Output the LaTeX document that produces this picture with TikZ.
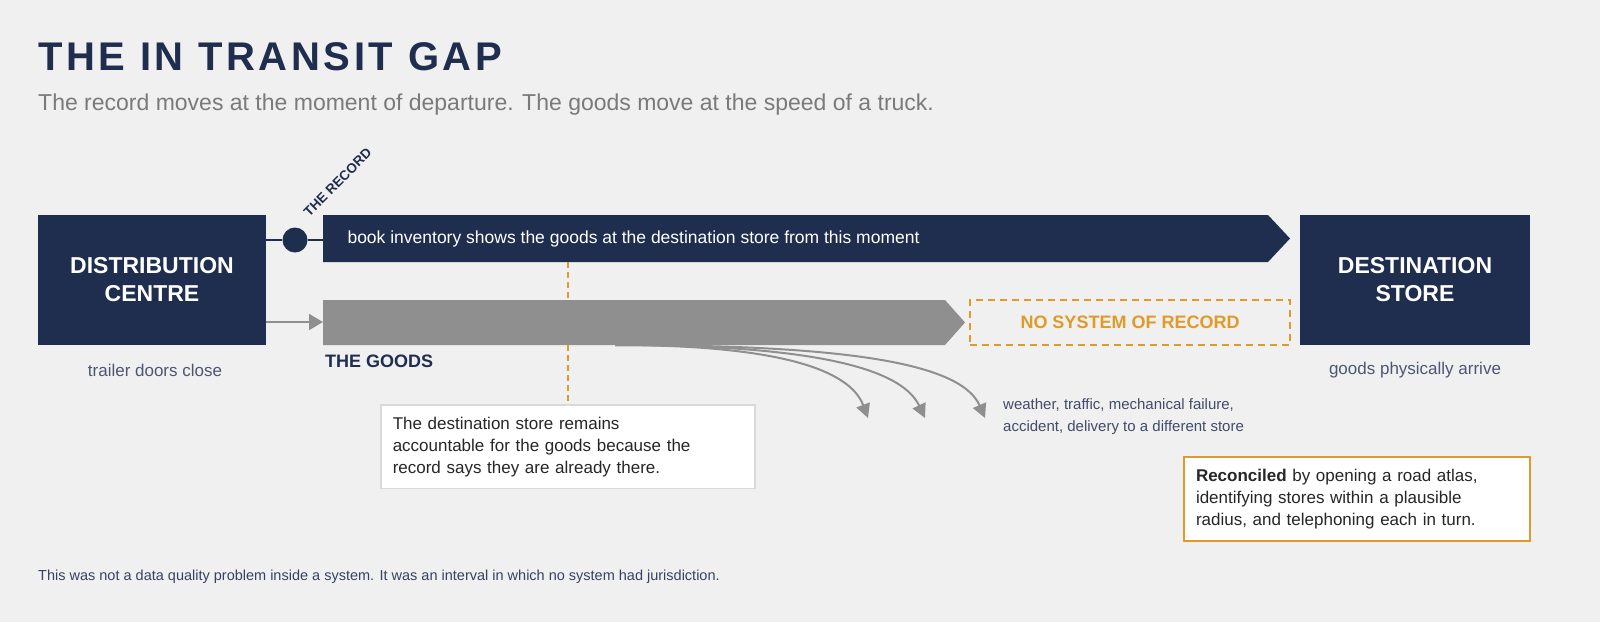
\documentclass[tikz,border=0pt]{standalone}
\usepackage{fontspec}
\setmainfont{Liberation Sans}
\usetikzlibrary{arrows.meta}
\definecolor{navy}{HTML}{1F2D4F}
\definecolor{goods}{HTML}{8F8F8F}
\definecolor{amber}{HTML}{E09A2A}
\definecolor{bg}{HTML}{F0F0F0}
\definecolor{subgray}{HTML}{7A7A7A}
\tikzset{
  site/.style={fill=navy,text=white,font=\fontsize{23}{28}\selectfont\bfseries,align=center},
  caption/.style={text=navy!80,font=\fontsize{17}{20}\selectfont},
  note/.style={draw=black!15,line width=1.5pt,fill=white,text=black!85,align=left,font=\fontsize{17}{22}\selectfont,inner sep=12pt},
  drift/.style={goods,line width=2pt,-{Triangle[length=14pt,width=14pt]}},
}
\begin{document}
\begin{tikzpicture}[x=1pt,y=-1pt]
  \fill[bg] (0,0) rectangle (1600,622);
  \useasboundingbox (0,0) rectangle (1600,622);

  \node[anchor=base west,text=navy,font=\fontsize{40}{44}\selectfont\bfseries\addfontfeature{LetterSpace=9},inner sep=0] (title) at (38,70) {THE IN TRANSIT GAP};
  \node[anchor=base west,text=subgray,font=\fontsize{23}{27}\selectfont,inner sep=0] (sub) at (38,110) {The record moves at the moment of departure. The goods move at the speed of a truck.};

  \node[site,minimum width=228pt,minimum height=130pt] (dc) at (152,280) {DISTRIBUTION\\CENTRE};
  \node[site,minimum width=230pt,minimum height=130pt] (store) at (1415,280) {DESTINATION\\STORE};
  \node[caption] (close) at (155,370) {trailer doors close};
  \node[caption] (arrive) at (1415,370) {goods physically arrive};

  % record
  \fill[navy] (323,215) -- (1268,215) -- (1290,238.5) -- (1268,262) -- (323,262) -- cycle;
  \node[anchor=west,text=white,font=\fontsize{17.5}{20}\selectfont] (book) at (344,239) {book inventory shows the goods at the destination store from this moment};
  \node[circle,fill=navy,minimum size=25pt,inner sep=0] (dot) at (295,240) {};
  \draw[navy,line width=2pt] (dc.east|-dot) -- (dot) -- (323,240);
  \node[rotate=45,anchor=west,text=navy,font=\fontsize{13.5}{15}\selectfont\bfseries,inner sep=0] (rec) at (306,214) {THE RECORD};

  % goods
  \fill[goods] (323,300) -- (945,300) -- (965,322.5) -- (945,345) -- (323,345) -- cycle;
  \coordinate (gstart) at (323,322);
  \draw[goods,line width=2pt,-{Triangle[length=14pt,width=16pt]}] (dc.east|-gstart) -- (gstart);
  \node[anchor=north west,text=navy,font=\fontsize{18}{20}\selectfont\bfseries,inner sep=0] (thegoods) at (325,355) {THE GOODS};
  \node[draw=amber,line width=1.5pt,dash pattern=on 7pt off 5pt,minimum width=320pt,minimum height=45pt,text=amber,font=\fontsize{18}{20}\selectfont\bfseries] (nosys) at (1130,322.5) {NO SYSTEM OF RECORD};

  % drift
  \coordinate (src) at (615,345);
  \coordinate (d1) at (868,418);
  \coordinate (d2) at (925,418);
  \coordinate (d3) at (985,418);
  \draw[drift] (src) .. controls (780,345) and (850,370) .. (d1);
  \draw[drift] (src) .. controls (800,345) and (900,365) .. (d2);
  \draw[drift] (src) .. controls (830,345) and (960,360) .. (d3);
  \node[anchor=north west,text=navy!85,align=left,font=\fontsize{15}{22}\selectfont,inner sep=0] (causes) at (1003,398) {weather, traffic, mechanical failure,\\accident, delivery to a different store};

  % gap
  \node[note,anchor=north west,text width=350pt] (acct) at (380,404) {The destination store remains\\accountable for the goods because the\\record says they are already there.};
  \draw[amber,line width=1.5pt,dash pattern=on 6pt off 4pt] (568,262) -- (568,300);
  \draw[amber,line width=1.5pt,dash pattern=on 6pt off 4pt] (568,345) -- (acct.north-|568,0);

  \node[note,draw=amber,line width=2pt,anchor=north west,text width=322pt] (recon) at (1183,456) {\textbf{Reconciled} by opening a road atlas,\\identifying stores within a plausible\\radius, and telephoning each in turn.};

  \node[anchor=base west,text=navy!90,font=\fontsize{14.5}{17}\selectfont,inner sep=0] (foot) at (38,580) {This was not a data quality problem inside a system. It was an interval in which no system had jurisdiction.};
\end{tikzpicture}
\end{document}
